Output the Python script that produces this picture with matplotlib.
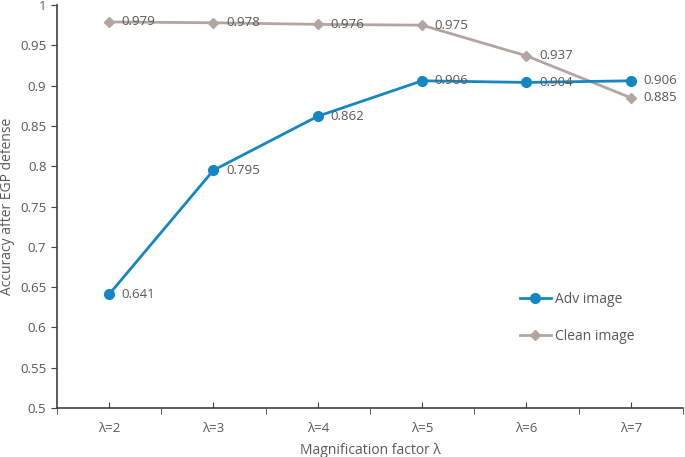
import numpy as np
import matplotlib.pyplot as plt
from matplotlib.ticker import FixedLocator, MultipleLocator, FuncFormatter

plt.rcParams['font.family'] = ['Open Sans', 'DejaVu Sans']

categories = ['λ=2', 'λ=3', 'λ=4', 'λ=5', 'λ=6', 'λ=7']
adv = [0.641, 0.795, 0.862, 0.906, 0.904, 0.906]
clean = [0.979, 0.978, 0.976, 0.975, 0.937, 0.885]

text_col = '#595959'
axis_col = '#404040'
blue = '#1487c2'
taupe = '#b3a5a2'

fig = plt.figure(figsize=(6.85, 4.57), dpi=100)
ax = fig.add_axes([0.083, 0.107, 0.914, 0.882])

x = np.arange(len(categories))
ax.plot(x, clean, color=taupe, lw=2, marker='D', markersize=5, label='Clean image', zorder=2)
ax.plot(x, adv, color=blue, lw=2, marker='o', markersize=7, label='Adv image', zorder=3)

for xi, v in zip(x, adv):
    ax.annotate('%.3f' % v, (xi, v), xytext=(9, 0), textcoords='offset points',
                va='center', ha='left', fontsize=9.5, color=text_col, zorder=4)
for xi, v in zip(x, clean):
    ax.annotate('%.3f' % v, (xi, v), xytext=(9, 0), textcoords='offset points',
                va='center', ha='left', fontsize=9.5, color=text_col, zorder=4)

ax.set_xlim(-0.5, len(categories) - 0.5)
ax.set_ylim(0.5, 1.0)
ax.yaxis.set_major_locator(MultipleLocator(0.05))
ax.yaxis.set_major_formatter(FuncFormatter(lambda v, p: '%g' % round(v, 2)))
ax.set_xticks(x)
ax.set_xticklabels(categories)
ax.xaxis.set_minor_locator(FixedLocator(np.arange(-0.5, len(categories), 1.0)))

for s in ['top', 'right']:
    ax.spines[s].set_visible(False)
for s in ['left', 'bottom']:
    ax.spines[s].set_color(axis_col)
    ax.spines[s].set_linewidth(1.2)

ax.tick_params(axis='y', direction='out', length=4, color=axis_col, labelcolor=text_col, labelsize=9.5)
ax.tick_params(axis='x', which='major', direction='in', length=4, color=axis_col,
               labelcolor=text_col, labelsize=9.5, pad=10)
ax.tick_params(axis='x', which='minor', direction='out', length=4, color=axis_col)

ax.set_xlabel('Magnification factor λ', fontsize=10, color=text_col, labelpad=6)
ax.set_ylabel('Accuracy after EGP defense', fontsize=10, color=text_col, labelpad=4)

h, l = ax.get_legend_handles_labels()
ax.legend(h[::-1], l[::-1], loc='upper left', bbox_to_anchor=(0.72, 0.32), frameon=False,
          fontsize=10, labelcolor=text_col, labelspacing=1.6, handlelength=2.2,
          handletextpad=0.3)

plt.savefig('out.png')
